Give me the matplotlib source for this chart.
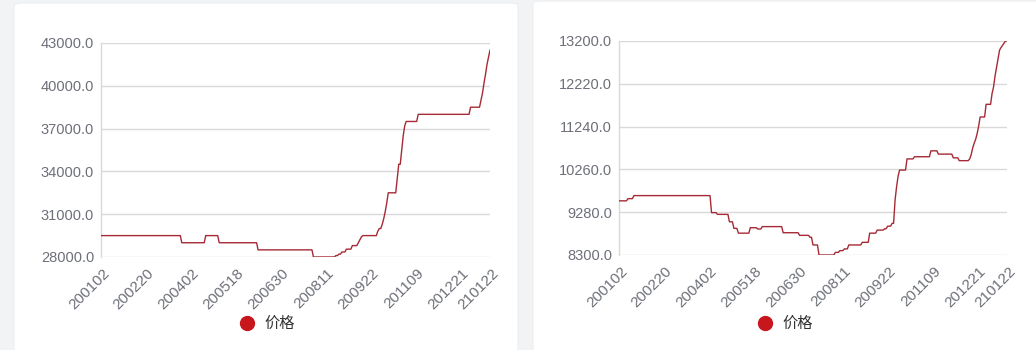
import numpy as np
import matplotlib.pyplot as plt
from matplotlib.patches import FancyBboxPatch
from matplotlib.lines import Line2D
from matplotlib.transforms import ScaledTranslation

plt.rcParams['font.family'] = ['Noto Sans CJK SC', 'DejaVu Sans']

# x axis categories (trading days), labels shown every 30 days plus the last one
tick_pos = [0, 30, 60, 90, 120, 150, 180, 210, 240, 260]
tick_labels = ['200102', '200220', '200402', '200518', '200630',
               '200811', '200922', '201109', '201221', '210122']

# left chart: price levels and how many days each lasts
left_levels = [29500, 29000, 29500, 29000, 28500, 28000,
               28100, 28200, 28350, 28550, 28800, 29000, 29200, 29400, 29500,
               29800, 30000, 30300, 30700, 31200, 31800, 32500, 33500, 34500,
               35500, 36500, 37200, 37500, 38000, 38500,
               39000, 39500, 40200, 40800, 41500, 42000, 42500]
left_days = [54, 16, 9, 26, 37, 15,
             2, 2, 3, 4, 4, 1, 1, 1, 10,
             1, 2, 1, 1, 1, 1, 6, 1, 2,
             1, 1, 1, 8, 35, 7,
             1, 1, 1, 1, 1, 1, 1]
left_ticks = [28000, 31000, 34000, 37000, 40000, 43000]

# right chart
right_levels = [9540, 9590, 9660, 9270, 9230, 9060, 8910, 8800, 8925, 8895,
                8950, 8810, 8750, 8705, 8530, 8300, 8360, 8400, 8440, 8530,
                8590, 8800, 8870, 8900, 8960, 9025, 9560, 9860, 10100, 10245,
                10500, 10550, 10685, 10610, 10525, 10460,
                10500, 10600, 10750, 10860, 10950, 11080, 11250, 11460, 11750,
                12000, 12150, 12400, 12600, 12800, 12990, 13050, 13100, 13150,
                13200]
right_days = [6, 4, 52, 4, 8, 3, 3, 8, 5, 3,
              14, 11, 7, 2, 4, 11, 3, 3, 3, 9,
              5, 5, 5, 2, 3, 2, 1, 1, 1, 5,
              5, 11, 5, 10, 4, 7,
              1, 1, 1, 1, 1, 1, 1, 4, 4,
              1, 1, 1, 1, 1, 1, 1, 1, 1,
              2]
right_ticks = [8300, 9280, 10260, 11240, 12220, 13200]

legend_label = '价格'

W, H = 1036, 350
fig = plt.figure(figsize=(W / 100, H / 100), dpi=100)
fig.patch.set_facecolor('#f2f3f5')

# white cards
for x0, y0, x1 in [(14, 3, 518), (533, 1, 1050)]:
    card = FancyBboxPatch((x0 / W, (H - 400) / H), (x1 - x0) / W, (400 - y0) / H,
                          boxstyle='round,pad=0,rounding_size=0.008',
                          transform=fig.transFigure, facecolor='white',
                          edgecolor='#eceef1', linewidth=0.8, zorder=-5)
    fig.patches.append(card)

tick_font = 'Liberation Sans'


def draw(rect, levels, days, yticks, legend_x):
    ax = fig.add_axes(rect)
    ax.set_facecolor('none')
    vals = np.repeat(levels, days)
    ax.plot(np.arange(len(vals)), vals, color='#a52a35', lw=1.0, zorder=3)
    ax.set_xlim(0, len(vals) - 1)
    ax.set_ylim(yticks[0], yticks[-1])
    ax.set_yticks(yticks)
    ax.set_yticklabels(['%.1f' % t for t in yticks], family=tick_font)
    ax.set_xticks(tick_pos)
    ax.set_xticklabels(tick_labels, rotation=45, ha='right', va='center',
                       rotation_mode='anchor', family=tick_font)
    ax.tick_params(axis='y', length=0, labelsize=10.5, colors='#6e7079', pad=5)
    ax.tick_params(axis='x', length=0, labelsize=11, colors='#6e7079', pad=10)
    shift = ScaledTranslation(6 / 100, 0, fig.dpi_scale_trans)
    for lab in ax.get_xticklabels():
        lab.set_transform(lab.get_transform() + shift)
    ax.grid(axis='y', color='#d9d9d9', lw=1.0)
    for s in ['top', 'right', 'bottom']:
        ax.spines[s].set_visible(False)
    ax.spines['left'].set_color('#d9d9d9')
    ax.spines['left'].set_linewidth(1.0)

    fig.lines.append(Line2D([legend_x / W], [(H - 323) / H], marker='o',
                            markersize=10, color='#c8161d', lw=0,
                            transform=fig.transFigure))
    fig.text((legend_x + 17) / W, (H - 323) / H, legend_label, fontsize=11,
             color='#333333', va='center', ha='left')
    return ax


draw([101 / W, (H - 257) / H, 389 / W, 214 / H], left_levels, left_days,
     left_ticks, 247)
draw([619 / W, (H - 255) / H, 388 / W, 214 / H], right_levels, right_days,
     right_ticks, 765)

plt.savefig('out.png', dpi=100)
